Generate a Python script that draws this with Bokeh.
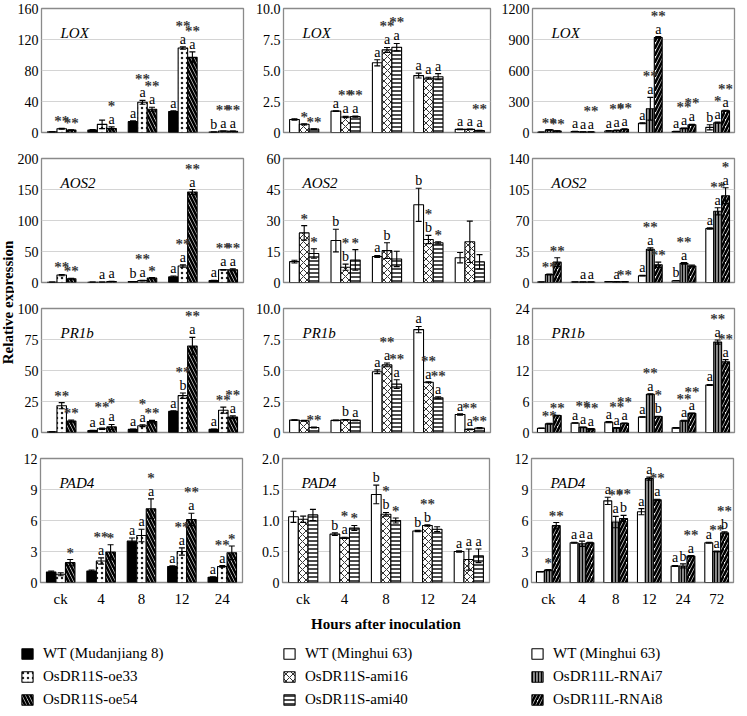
import math
from bokeh.plotting import figure
from bokeh.models import (Range1d, FixedTicker, ColumnDataSource, Whisker, TeeHead,
                          Label, LabelSet, Legend, LegendItem)
from bokeh.layouts import row, column
from bokeh.core.properties import value
from bokeh.embed import file_html
from bokeh.resources import INLINE

FONT = "Liberation Serif"

# ---------------- data ----------------
CATS_A = ["ck", "4", "8", "12", "24"]
CATS_B = ["ck", "4", "8", "12", "24", "72"]
SER_1 = ["WT (Mudanjiang 8)", "OsDR11S-oe33", "OsDR11S-oe54"]
SER_2 = ["WT (Minghui 63)", "OsDR11S-ami16", "OsDR11S-ami40"]
SER_3 = ["WT (Minghui 63)", "OsDR11L-RNAi7", "OsDR11L-RNAi8"]
GENES = ["LOX", "AOS2", "PR1b", "PAD4"]
X_TITLE = "Hours after inoculation"
Y_TITLE = "Relative expression"

# LOX
LOX1_TICKS = ["0", "40", "80", "120", "160"]
LOX1_VAL = [[0.8, 3.2, 14, 27, 0.6], [4.8, 10.5, 39, 109, 1.8], [3.2, 5.2, 30, 97, 1.6]]
LOX1_ERR = [[0.2, 0.5, 1.0, 1.0, 0.1], [0.5, 5.5, 2.5, 1.5, 0.2], [0.4, 2.0, 2.5, 7.0, 0.2]]
LOX1_LET = [["", "", "a", "a", "b"], ["", "", "a", "a", "a"], ["", "a", "a", "a", "a"]]
LOX1_STAR = [["", "", "", "", ""], ["**", "", "**", "**", "**"], ["**", "*", "**", "**", "**"]]

LOX2_TICKS = ["0", "2.5", "5.0", "7.5", "10.0"]
LOX2_VAL = [[1.05, 1.72, 5.62, 4.59, 0.25], [0.66, 1.25, 6.66, 4.38, 0.25], [0.27, 1.28, 6.88, 4.5, 0.15]]
LOX2_ERR = [[0.05, 0.03, 0.25, 0.2, 0.02], [0.05, 0.05, 0.2, 0.08, 0.02], [0.03, 0.05, 0.3, 0.25, 0.02]]
LOX2_LET = [["", "a", "a", "a", "a"], ["", "a", "a", "a", "a"], ["", "a", "a", "a", "a"]]
LOX2_STAR = [["", "", "", "", ""], ["*", "**", "**", "", ""], ["**", "**", "**", "", "**"]]

LOX3_TICKS = ["0", "300", "600", "900", "1200"]
LOX3_VAL = [[3, 10, 15, 90, 10, 50], [25, 5, 20, 230, 40, 95], [15, 5, 32, 920, 75, 210]]
LOX3_ERR = [[1, 2, 3, 5, 2, 25], [3, 1, 3, 110, 4, 5], [2, 1, 3, 8, 4, 5]]
LOX3_LET = [["", "a", "a", "a", "a", "b"], ["", "a", "a", "a", "a", "a"], ["", "a", "a", "a", "a", "a"]]
LOX3_STAR = [["", "", "", "", "", ""], ["**", "", "**", "**", "**", "*"], ["**", "**", "**", "**", "**", "**"]]

# AOS2
AOS1_TICKS = ["0", "50", "100", "150", "200"]
AOS1_VAL = [[0.5, 0.5, 1.5, 9, 3], [12, 0.5, 3, 26.5, 20.5], [6, 1.5, 7, 146, 20.5]]
AOS1_ERR = [[0.2, 0.1, 0.2, 1.5, 0.5], [1, 0.1, 0.5, 2, 0.5], [0.8, 0.3, 1, 4, 1.5]]
AOS1_LET = [["", "", "b", "a", "a"], ["", "a", "a", "a", "a"], ["", "a", "", "a", "a"]]
AOS1_STAR = [["", "", "", "", ""], ["**", "", "**", "**", "**"], ["**", "", "*", "**", "**"]]

AOS2_TICKS = ["0", "15", "30", "45", "60"]
AOS2_VAL = [[10.1, 20.3, 12.6, 37.6, 12], [24, 7.4, 15.4, 20.8, 19.7], [14, 10.9, 11.4, 19.2, 10]]
AOS2_ERR = [[0.7, 5.5, 0.5, 8, 2.5], [3.5, 1.5, 3.8, 2, 10], [2.3, 5, 3.7, 0.5, 3.5]]
AOS2_LET = [["", "b", "a", "b", ""], ["", "b", "b", "b", ""], ["", "", "", "", ""]]
AOS2_STAR = [["", "", "", "", ""], ["*", "*", "", "*", ""], ["*", "*", "", "*", ""]]

AOS3_TICKS = ["0", "35", "70", "105", "140"]
AOS3_VAL = [[0.5, 0.5, 1, 7.7, 2, 61], [9, 0.5, 0.8, 37.6, 21.6, 80.4], [23, 0.5, 0.8, 20, 18.6, 98]]
AOS3_ERR = [[0.1, 0.1, 0.1, 0.3, 0.3, 0.8], [0.5, 0.1, 0.1, 1.5, 0.8, 4], [5, 0.1, 0.1, 3, 1, 9]]
AOS3_LET = [["", "", "", "a", "b", "a"], ["", "a", "a", "a", "a", "a"], ["", "a", "", "", "", "a"]]
AOS3_STAR = [["", "", "", "", "", ""], ["**", "", "", "**", "**", "**"], ["**", "", "**", "**", "", "*"]]

# PR1b
PR1_TICKS = ["0", "25", "50", "75", "100"]
PR1_VAL = [[0.5, 1.5, 2.5, 17, 2.5], [21.6, 3, 5.5, 29.7, 18], [9.2, 4.5, 8.8, 69.7, 12.4]]
PR1_ERR = [[0.1, 0.2, 0.3, 0.5, 0.3], [2.5, 0.5, 0.8, 2.2, 2.5], [0.8, 2, 1, 7, 1]]
PR1_LET = [["", "a", "a", "a", "a"], ["", "a", "a", "b", ""], ["", "a", "", "a", "a"]]
PR1_STAR = [["", "", "", "", ""], ["**", "**", "*", "**", "**"], ["**", "*", "**", "**", "**"]]

PR2_TICKS = ["0", "2.5", "5.0", "7.5", "10.0"]
PR2_VAL = [[1.0, 0.98, 4.9, 8.3, 1.45], [0.95, 1.02, 5.45, 4.05, 0.25], [0.4, 0.98, 3.9, 2.8, 0.35]]
PR2_ERR = [[0.02, 0.02, 0.15, 0.25, 0.05], [0.03, 0.03, 0.15, 0.04, 0.02], [0.03, 0.03, 0.35, 0.08, 0.05]]
PR2_LET = [["", "", "a", "a", "a"], ["", "b", "a", "a", "a"], ["", "a", "a", "a", ""]]
PR2_STAR = [["", "", "", "", ""], ["", "", "**", "**", "**"], ["**", "", "**", "**", "**"]]

PR3_TICKS = ["0", "6", "12", "18", "24"]
PR3_VAL = [[0.82, 1.83, 2.0, 3.0, 0.9, 9.2], [1.7, 1.0, 0.9, 7.4, 2.27, 17.5], [3.3, 0.7, 1.8, 3.1, 3.7, 13.7]]
PR3_ERR = [[0.05, 0.05, 0.1, 0.05, 0.05, 0.1], [0.1, 0.05, 0.05, 0.1, 0.1, 0.4], [0.05, 0.05, 0.05, 0.05, 0.05, 0.4]]
PR3_LET = [["", "a", "a", "a", "", "a"], ["", "a", "a", "a", "a", "a"], ["", "a", "a", "b", "a", "a"]]
PR3_STAR = [["", "", "", "", "", ""], ["**", "**", "**", "**", "**", "**"], ["**", "**", "**", "*", "**", "**"]]

# PAD4
PAD1_TICKS = ["0", "3", "6", "9", "12"]
PAD1_VAL = [[1.02, 1.12, 4.0, 1.54, 0.5], [0.8, 2.08, 4.55, 3.0, 1.55], [1.92, 2.95, 7.14, 6.1, 2.88]]
PAD1_ERR = [[0.08, 0.08, 0.3, 0.08, 0.05], [0.15, 0.3, 0.6, 0.35, 0.08], [0.3, 0.7, 0.95, 0.6, 0.65]]
PAD1_LET = [["", "", "a", "a", "a"], ["", "a", "a", "a", "a"], ["", "", "a", "a", ""]]
PAD1_STAR = [["", "", "", "", ""], ["", "**", "", "**", "**"], ["*", "*", "*", "**", "*"]]

PAD2_TICKS = ["0", "0.5", "1.0", "1.5", "2.0"]
PAD2_VAL = [[1.06, 0.78, 1.42, 0.83, 0.5], [1.02, 0.72, 1.1, 0.92, 0.37], [1.09, 0.88, 1.0, 0.86, 0.43]]
PAD2_ERR = [[0.09, 0.02, 0.15, 0.01, 0.01], [0.05, 0.01, 0.03, 0.01, 0.17], [0.09, 0.04, 0.04, 0.04, 0.11]]
PAD2_LET = [["", "b", "b", "b", "a"], ["", "a", "b", "b", "a"], ["", "", "", "", "a"]]
PAD2_STAR = [["", "", "", "", ""], ["", "*", "*", "**", ""], ["", "*", "*", "", ""]]

PAD3_TICKS = ["0", "3", "6", "9", "12"]
PAD3_VAL = [[1.05, 3.85, 7.9, 6.85, 1.6, 3.85], [1.2, 3.75, 5.85, 10.05, 1.6, 3.0], [5.5, 3.85, 6.2, 8.0, 2.55, 4.8]]
PAD3_ERR = [[0.02, 0.05, 0.35, 0.3, 0.05, 0.05], [0.05, 0.25, 0.55, 0.15, 0.2, 0.05], [0.3, 0.05, 0.3, 0.05, 0.05, 0.1]]
PAD3_LET = [["", "a", "a", "a", "a", "a"], ["", "a", "a", "a", "b", "a"], ["", "a", "b", "a", "a", "b"]]
PAD3_STAR = [["", "", "", "", "", ""], ["*", "", "**", "**", "", "**"], ["**", "", "**", "**", "**", "**"]]

PANELS = [
    [(LOX1_VAL, LOX1_ERR, LOX1_LET, LOX1_STAR, LOX1_TICKS),
     (LOX2_VAL, LOX2_ERR, LOX2_LET, LOX2_STAR, LOX2_TICKS),
     (LOX3_VAL, LOX3_ERR, LOX3_LET, LOX3_STAR, LOX3_TICKS)],
    [(AOS1_VAL, AOS1_ERR, AOS1_LET, AOS1_STAR, AOS1_TICKS),
     (AOS2_VAL, AOS2_ERR, AOS2_LET, AOS2_STAR, AOS2_TICKS),
     (AOS3_VAL, AOS3_ERR, AOS3_LET, AOS3_STAR, AOS3_TICKS)],
    [(PR1_VAL, PR1_ERR, PR1_LET, PR1_STAR, PR1_TICKS),
     (PR2_VAL, PR2_ERR, PR2_LET, PR2_STAR, PR2_TICKS),
     (PR3_VAL, PR3_ERR, PR3_LET, PR3_STAR, PR3_TICKS)],
    [(PAD1_VAL, PAD1_ERR, PAD1_LET, PAD1_STAR, PAD1_TICKS),
     (PAD2_VAL, PAD2_ERR, PAD2_LET, PAD2_STAR, PAD2_TICKS),
     (PAD3_VAL, PAD3_ERR, PAD3_LET, PAD3_STAR, PAD3_TICKS)],
]
COL_CATS = [CATS_A, CATS_A, CATS_B]
COL_SER = [SER_1, SER_2, SER_3]

# ---------------- styles ----------------
STYLE = {
    "WT (Mudanjiang 8)": dict(fill_color="black"),
    "OsDR11S-oe33": dict(fill_color="white", hatch_pattern="dot", hatch_scale=5,
                         hatch_weight=1.2, hatch_color="#222222"),
    "OsDR11S-oe54": dict(fill_color="white", hatch_pattern="left_diagonal_line", hatch_scale=7,
                         hatch_weight=2.6, hatch_color="black"),
    "WT (Minghui 63)": dict(fill_color="white"),
    "OsDR11S-ami16": dict(fill_color="white", hatch_pattern="diagonal_cross", hatch_scale=7,
                          hatch_weight=1.0, hatch_color="#333333"),
    "OsDR11S-ami40": dict(fill_color="white", hatch_pattern="horizontal_line", hatch_scale=4,
                          hatch_weight=1.4, hatch_color="black"),
    "OsDR11L-RNAi7": dict(fill_color="#8c8c8c", hatch_pattern="vertical_line", hatch_scale=3,
                          hatch_weight=1.2, hatch_color="black"),
    "OsDR11L-RNAi8": dict(fill_color="white", hatch_pattern="right_diagonal_line", hatch_scale=7,
                          hatch_weight=2.6, hatch_color="black"),
}

FRAME_W = [202, 207, 202]
BORDER_L = [26, 36, 38]
BORDER_R = [4, 4, 3]
FH = 124
BW = 0.235
TOP_B = 8
BOT_B = 18
BOT_LAST = 46
LABEL_W = 14
NAN = float("nan")


def panel(gene, col, data, last):
    vals, errs, lets, stars, tick_labels = data
    cats = COL_CATS[col]
    series = COL_SER[col]
    n = len(cats)
    ticks = [float(t) for t in tick_labels]
    p = figure(frame_width=FRAME_W[col], frame_height=FH,
               x_range=Range1d(0, n), y_range=Range1d(0, ticks[-1]),
               output_backend="svg", toolbar_location=None,
               min_border_left=BORDER_L[col], min_border_right=BORDER_R[col],
               min_border_top=TOP_B, min_border_bottom=BOT_LAST if last else BOT_B,
               background_fill_color="white", border_fill_color="white")
    p.outline_line_color = "#8a8a8a"
    p.outline_line_width = 1.3

    p.yaxis.ticker = FixedTicker(ticks=ticks)
    p.yaxis.major_label_overrides = {t: lab for t, lab in zip(ticks, tick_labels)}
    p.yaxis.axis_line_color = None
    p.yaxis.major_tick_out = 0
    p.yaxis.major_tick_in = 0
    p.yaxis.minor_tick_line_color = None
    p.yaxis.major_label_standoff = 3
    p.yaxis.major_label_text_font = FONT
    p.yaxis.major_label_text_font_size = "14px"
    p.yaxis.major_label_text_color = "black"

    p.ygrid.ticker = FixedTicker(ticks=ticks)
    p.ygrid.grid_line_color = "#d4d4d4"
    p.ygrid.grid_line_width = 1
    p.xgrid.visible = False

    if last:
        centers = [i + 0.5 for i in range(n)]
        p.xaxis.ticker = FixedTicker(ticks=centers)
        p.xaxis.major_label_overrides = {c: lab for c, lab in zip(centers, cats)}
        p.xaxis.axis_line_color = None
        p.xaxis.major_tick_out = 0
        p.xaxis.major_tick_in = 0
        p.xaxis.minor_tick_line_color = None
        p.xaxis.major_label_standoff = 8
        p.xaxis.major_label_text_font = FONT
        p.xaxis.major_label_text_font_size = "15px"
        p.xaxis.major_label_text_color = "black"
        if col == 1:
            p.xaxis.axis_label = X_TITLE
            p.xaxis.axis_label_text_font = FONT
            p.xaxis.axis_label_text_font_size = "15px"
            p.xaxis.axis_label_text_font_style = "bold"
            p.xaxis.axis_label_text_color = "black"
            p.xaxis.axis_label_standoff = 6
    else:
        p.xaxis.visible = False

    for j, name in enumerate(series):
        xs = [i + 0.5 + (j - 1) * BW for i in range(n)]
        v = vals[j]
        e = errs[j]
        up = [a + b for a, b in zip(v, e)]
        lo = [a - b for a, b in zip(v, e)]
        soff = [16 if l else 2 for l in lets[j]]
        src = ColumnDataSource(dict(x=xs, top=v, upper=up, lower=lo,
                                    let=lets[j], star=stars[j], soff=soff))
        p.vbar(x="x", top="top", width=BW, source=src, line_color="black",
               line_width=1.1, **STYLE[name])
        w = Whisker(source=src, base="x", upper="upper", lower="lower",
                    dimension="height", level="annotation", line_width=1.1,
                    line_color="black",
                    upper_head=TeeHead(size=6, line_width=1.1, line_color="black"),
                    lower_head=TeeHead(size=6, line_width=1.1, line_color="black"))
        p.add_layout(w)
        p.add_layout(LabelSet(x="x", y="upper", text="let", source=src, text_align="center",
                              text_baseline="alphabetic", y_offset=3,
                              text_font=value(FONT), text_font_size="14px",
                              text_color="black"))
        p.add_layout(LabelSet(x="x", y="upper", text="star", source=src, text_align="center",
                              text_baseline="alphabetic", y_offset="soff",
                              text_font=value(FONT), text_font_size="15px",
                              text_font_style="bold", text_color="#3a3a3a"))

    p.add_layout(Label(x=19, y=FH - 24, x_units="screen", y_units="screen", text=gene,
                       text_font=FONT, text_font_style="italic", text_font_size="15px",
                       text_baseline="middle", text_color="black"))
    return p


rows = []
for r, gene in enumerate(GENES):
    last = r == len(GENES) - 1
    rows.append(row(*[panel(gene, c, PANELS[r][c], last) for c in range(3)]))

grid_h = (len(GENES) - 1) * (TOP_B + FH + BOT_B) + (TOP_B + FH + BOT_LAST)

lab = figure(width=LABEL_W, height=grid_h, output_backend="svg", toolbar_location=None,
             x_axis_location=None, y_axis_location=None, min_border=0,
             x_range=Range1d(0, 1), y_range=Range1d(0, 1))
lab.outline_line_color = None
lab.grid.visible = False
lab.add_layout(Label(x=LABEL_W / 2, y=grid_h - 302, x_units="screen", y_units="screen",
                     text=Y_TITLE, angle=math.pi / 2, text_align="center",
                     text_baseline="middle", text_font=FONT, text_font_style="bold",
                     text_font_size="15px", text_color="black"))

# ---------------- legend ----------------
LEG_W = LABEL_W + sum(BORDER_L) + sum(FRAME_W) + sum(BORDER_R)
LEG_H = 700 - grid_h
leg = figure(width=LEG_W, height=LEG_H, output_backend="svg", toolbar_location=None,
             x_axis_location=None, y_axis_location=None, min_border=0,
             x_range=Range1d(0, 1), y_range=Range1d(0, 1))
leg.outline_line_color = None
leg.grid.visible = False
LEG_X = [20, 282, 530]
for c, series in enumerate(COL_SER):
    items = []
    for name in series:
        # legend proxy glyph (NaN data: nothing drawn in the plot area)
        rr = leg.vbar(x=[NAN], top=[NAN], width=0.1, line_color="black", line_width=1.1,
                      **STYLE[name])
        items.append(LegendItem(label=name, renderers=[rr]))
    L = Legend(items=items, location=(LEG_X[c], -2), orientation="vertical",
               glyph_width=14, glyph_height=13, label_standoff=9, spacing=6,
               padding=0, margin=0, border_line_color=None, background_fill_alpha=0,
               label_text_font=FONT, label_text_font_size="15px", label_text_color="black")
    leg.add_layout(L)

layout = column(row(lab, column(*rows)), leg)
open("out.html", "w").write(file_html(layout, INLINE))
